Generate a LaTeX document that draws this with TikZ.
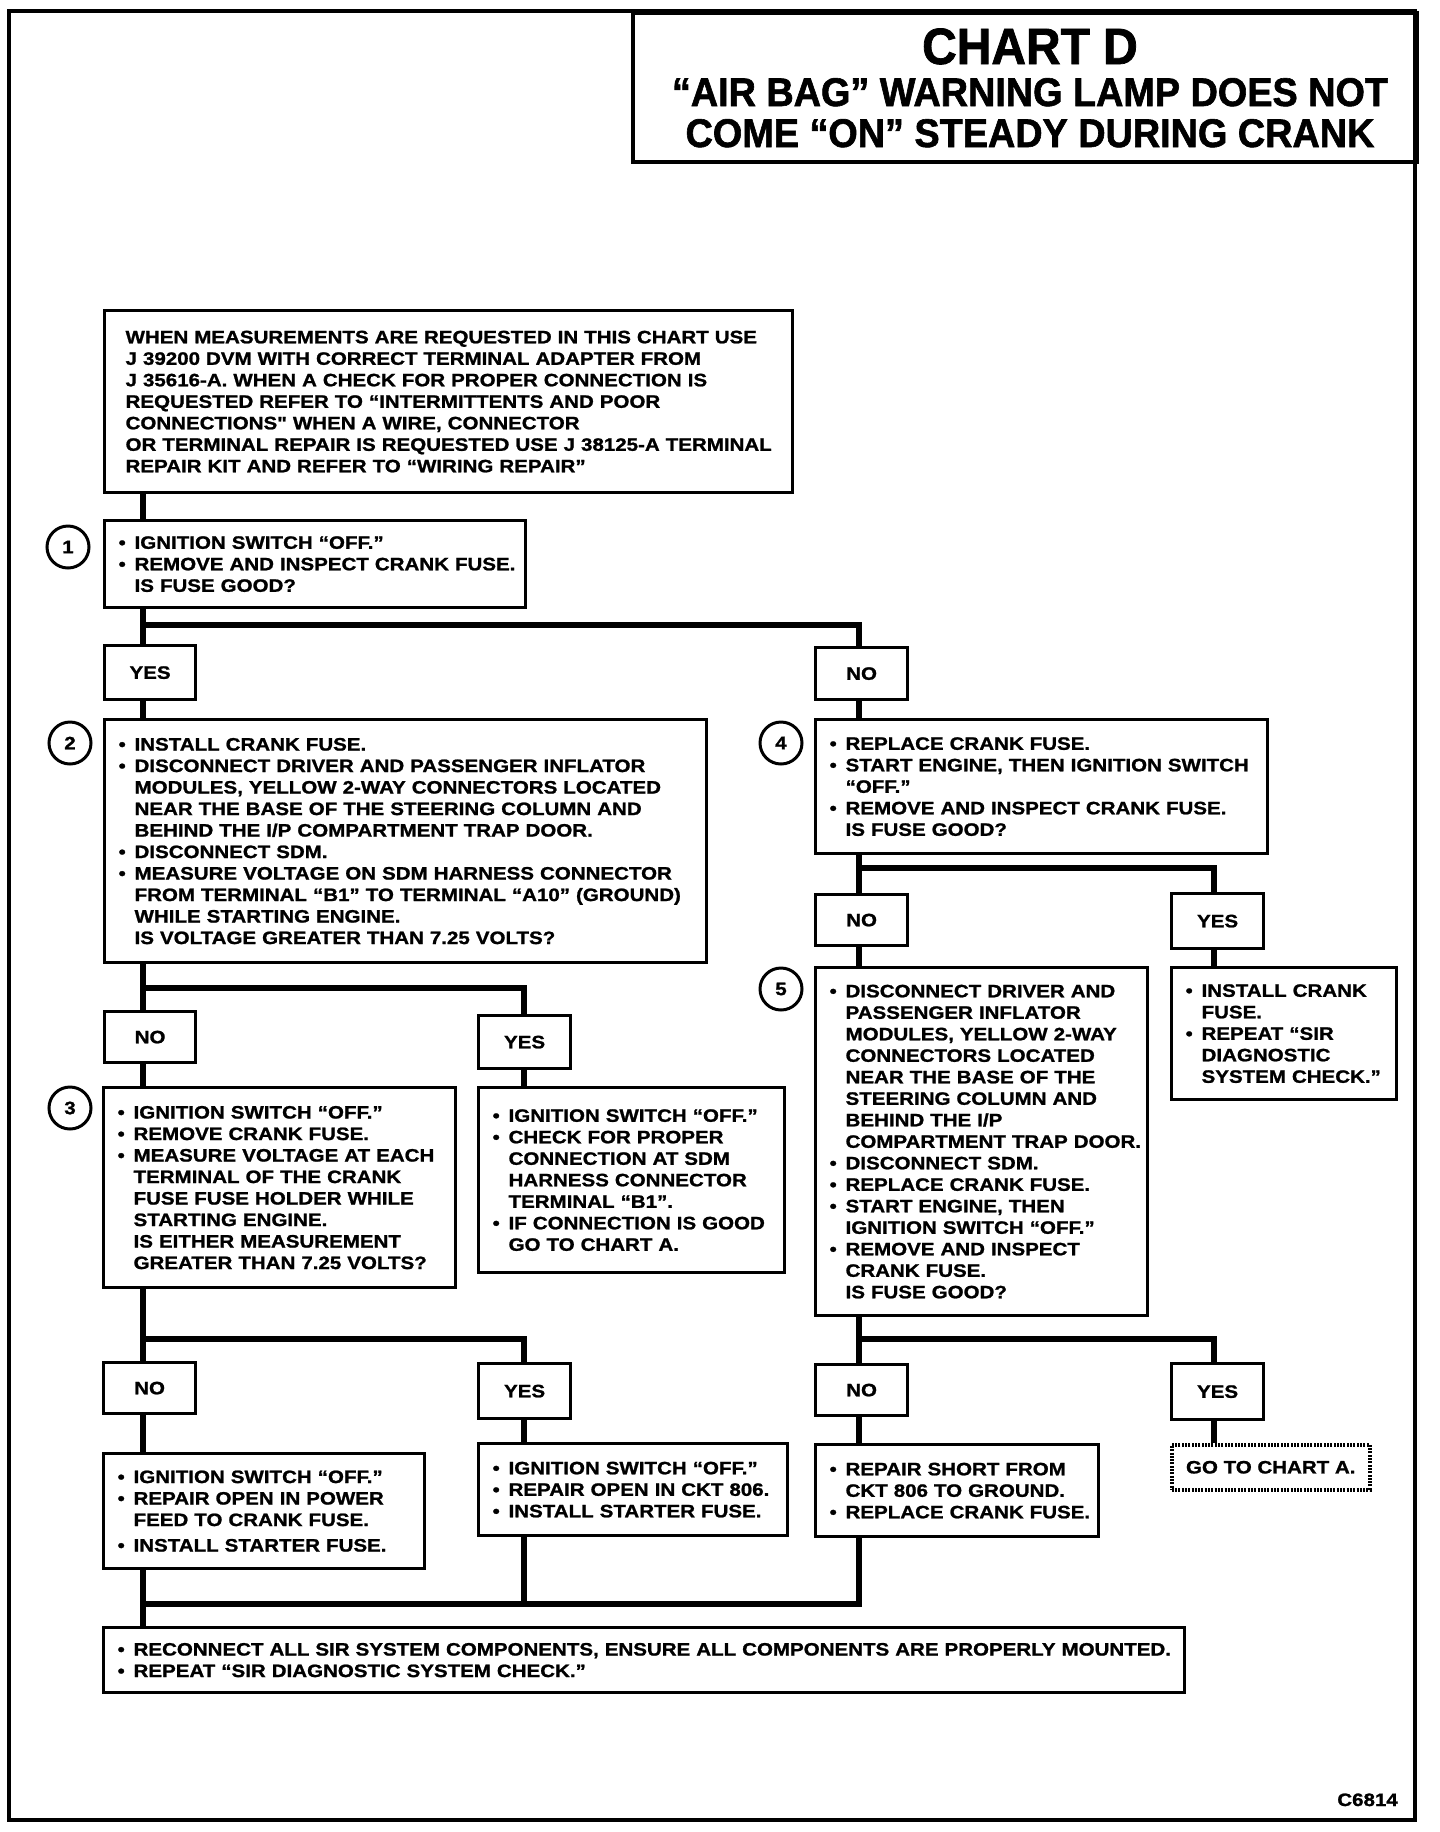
\documentclass[tikz,border=0pt]{standalone}
\usepackage{fontspec}
\newfontfamily\bodyf[FakeStretch=1.14, BoldFeatures={FakeBold=1.2}]{Liberation Sans}
\newfontfamily\titf[FakeStretch=0.945, BoldFeatures={FakeBold=1.5}]{Liberation Sans}
\newfontfamily\titfA[FakeStretch=0.94, BoldFeatures={FakeBold=1.5}]{Liberation Sans}
\newcommand\bul{\makebox[16pt][l]{\textbullet}}
\newcommand\indt{\hspace*{16pt}}
\tikzset{
  box/.style={draw, line width=3.2pt, anchor=north west, inner xsep=14pt, inner ysep=0pt,
    align=left, font=\bodyf\bfseries\fontsize{18}{21.5}\selectfont},
  lab/.style={draw, line width=3.2pt, anchor=north west, inner sep=0pt,
    align=center, font=\bodyf\bfseries\fontsize{18}{21.5}\selectfont},
  num/.style={circle, draw, line width=3pt, minimum size=42pt, inner sep=0pt,
    font=\bodyf\bfseries\fontsize{18}{18}\selectfont},
  conn/.style={line width=6.5pt, line join=miter},
  ttl/.style={anchor=base, inner sep=0pt}
}
\begin{document}
\begin{tikzpicture}[x=1pt,y=-1pt]
\useasboundingbox (0,0) rectangle (1440,1832);
% frame and title
\draw[line width=3.5pt] (9,11) rectangle (1415,1820);
\node[draw, line width=3.5pt, anchor=north west, minimum width=784pt, minimum height=149pt, inner sep=0pt] (tbox) at (631,11) {};
\node[ttl, font=\titfA\bfseries\fontsize{51}{51}\selectfont] (t1) at (1030,64) {CHART D};
\node[ttl, font=\titf\bfseries\fontsize{40}{40}\selectfont] (t2) at (1030,106) {“AIR BAG” WARNING LAMP DOES NOT};
\node[ttl, font=\titf\bfseries\fontsize{40}{40}\selectfont] (t3) at (1030,147) {COME “ON” STEADY DURING CRANK};

% boxes
\node[box, inner xsep=21pt, minimum width=688pt, minimum height=182pt, text width=646pt] (info) at (103,309) {%
\mbox{WHEN MEASUREMENTS ARE REQUESTED IN THIS CHART USE}\\
\mbox{J 39200 DVM WITH CORRECT TERMINAL ADAPTER FROM}\\
\mbox{J 35616-A. WHEN A CHECK FOR PROPER CONNECTION IS}\\
\mbox{REQUESTED REFER TO “INTERMITTENTS AND POOR}\\
\mbox{CONNECTIONS" WHEN A WIRE, CONNECTOR}\\
\mbox{OR TERMINAL REPAIR IS REQUESTED USE J 38125-A TERMINAL}\\
\mbox{REPAIR KIT AND REFER TO “WIRING REPAIR”}};

\node[box, minimum width=421pt, minimum height=87pt, text width=393pt] (b1) at (103,519) {%
\mbox{\bul IGNITION SWITCH “OFF.”}\\
\mbox{\bul REMOVE AND INSPECT CRANK FUSE.}\\
\mbox{\indt IS FUSE GOOD?}};

\node[lab, minimum width=91pt, minimum height=54pt] (yes1) at (103,644) {YES};
\node[lab, minimum width=92pt, minimum height=52pt] (no1) at (814,646) {NO};

\node[box, minimum width=602pt, minimum height=243pt, text width=574pt] (b2) at (103,718) {%
\mbox{\bul INSTALL CRANK FUSE.}\\
\mbox{\bul DISCONNECT DRIVER AND PASSENGER INFLATOR}\\
\mbox{\indt MODULES, YELLOW 2-WAY CONNECTORS LOCATED}\\
\mbox{\indt NEAR THE BASE OF THE STEERING COLUMN AND}\\
\mbox{\indt BEHIND THE I/P COMPARTMENT TRAP DOOR.}\\
\mbox{\bul DISCONNECT SDM.}\\
\mbox{\bul MEASURE VOLTAGE ON SDM HARNESS CONNECTOR}\\
\mbox{\indt FROM TERMINAL “B1” TO TERMINAL “A10” (GROUND)}\\
\mbox{\indt WHILE STARTING ENGINE.}\\
\mbox{\indt IS VOLTAGE GREATER THAN 7.25 VOLTS?}};

\node[box, minimum width=452pt, minimum height=134pt, text width=424pt] (b4) at (814,718) {%
\mbox{\bul REPLACE CRANK FUSE.}\\
\mbox{\bul START ENGINE, THEN IGNITION SWITCH}\\
\mbox{\indt “OFF.”}\\
\mbox{\bul REMOVE AND INSPECT CRANK FUSE.}\\
\mbox{\indt IS FUSE GOOD?}};

\node[lab, minimum width=91pt, minimum height=51pt] (no2) at (103,1010) {NO};
\node[lab, minimum width=92pt, minimum height=53pt] (yes2) at (477,1014) {YES};

\node[box, minimum width=352pt, minimum height=200pt, text width=324pt] (b3) at (102,1086) {%
\mbox{\bul IGNITION SWITCH “OFF.”}\\
\mbox{\bul REMOVE CRANK FUSE.}\\
\mbox{\bul MEASURE VOLTAGE AT EACH}\\
\mbox{\indt TERMINAL OF THE CRANK}\\
\mbox{\indt FUSE FUSE HOLDER WHILE}\\
\mbox{\indt STARTING ENGINE.}\\
\mbox{\indt IS EITHER MEASUREMENT}\\
\mbox{\indt GREATER THAN 7.25 VOLTS?}};

\node[box, minimum width=306pt, minimum height=185pt, text width=278pt] (b2y) at (477,1086) {%
\mbox{\bul IGNITION SWITCH “OFF.”}\\
\mbox{\bul CHECK FOR PROPER}\\
\mbox{\indt CONNECTION AT SDM}\\
\mbox{\indt HARNESS CONNECTOR}\\
\mbox{\indt TERMINAL “B1”.}\\
\mbox{\bul IF CONNECTION IS GOOD}\\
\mbox{\indt GO TO CHART A.}};

\node[lab, minimum width=92pt, minimum height=51pt] (no4) at (814,893) {NO};
\node[lab, minimum width=92pt, minimum height=55pt] (yes4) at (1170,892) {YES};

\node[box, minimum width=332pt, minimum height=348pt, text width=304pt] (b5) at (814,966) {%
\mbox{\bul DISCONNECT DRIVER AND}\\
\mbox{\indt PASSENGER INFLATOR}\\
\mbox{\indt MODULES, YELLOW 2-WAY}\\
\mbox{\indt CONNECTORS LOCATED}\\
\mbox{\indt NEAR THE BASE OF THE}\\
\mbox{\indt STEERING COLUMN AND}\\
\mbox{\indt BEHIND THE I/P}\\
\mbox{\indt COMPARTMENT TRAP DOOR.}\\
\mbox{\bul DISCONNECT SDM.}\\
\mbox{\bul REPLACE CRANK FUSE.}\\
\mbox{\bul START ENGINE, THEN}\\
\mbox{\indt IGNITION SWITCH “OFF.”}\\
\mbox{\bul REMOVE AND INSPECT}\\
\mbox{\indt CRANK FUSE.}\\
\mbox{\indt IS FUSE GOOD?}};

\node[box, minimum width=225pt, minimum height=132pt, text width=197pt] (b4y) at (1170,966) {%
\mbox{\bul INSTALL CRANK}\\
\mbox{\indt FUSE.}\\
\mbox{\bul REPEAT “SIR}\\
\mbox{\indt DIAGNOSTIC}\\
\mbox{\indt SYSTEM CHECK.”}};

\node[lab, minimum width=92pt, minimum height=51pt] (no3) at (102,1361) {NO};
\node[lab, minimum width=92pt, minimum height=55pt] (yes3) at (477,1362) {YES};
\node[lab, minimum width=92pt, minimum height=51pt] (no5) at (814,1363) {NO};
\node[lab, minimum width=92pt, minimum height=56pt] (yes5) at (1170,1362) {YES};

\node[box, minimum width=321pt, minimum height=115pt, text width=293pt] (b3n) at (102,1452) {%
\mbox{\bul IGNITION SWITCH “OFF.”}\\
\mbox{\bul REPAIR OPEN IN POWER}\\
\mbox{\indt FEED TO CRANK FUSE.}\\[4pt]
\mbox{\bul INSTALL STARTER FUSE.}};

\node[box, minimum width=309pt, minimum height=92pt, text width=281pt] (b3y) at (477,1442) {%
\mbox{\bul IGNITION SWITCH “OFF.”}\\
\mbox{\bul REPAIR OPEN IN CKT 806.}\\
\mbox{\bul INSTALL STARTER FUSE.}};

\node[box, minimum width=283pt, minimum height=92pt, text width=255pt] (b5n) at (814,1443) {%
\mbox{\bul REPAIR SHORT FROM}\\
\mbox{\indt CKT 806 TO GROUND.}\\
\mbox{\bul REPLACE CRANK FUSE.}};

\node[lab, line width=3.5pt, dash pattern=on 2pt off 1.3pt, minimum width=198pt, minimum height=45pt] (goto) at (1170,1443) {GO TO CHART A.};

\node[box, minimum width=1081pt, minimum height=65pt, text width=1053pt] (fin) at (102,1626) {%
\mbox{\bul RECONNECT ALL SIR SYSTEM COMPONENTS, ENSURE ALL COMPONENTS ARE PROPERLY MOUNTED.}\\
\mbox{\bul REPEAT “SIR DIAGNOSTIC SYSTEM CHECK.”}};

% step numbers
\node[num] (c1) at (68,547) {1};
\node[num] (c2) at (70,743) {2};
\node[num] (c3) at (70,1108) {3};
\node[num] (c4) at (781,743) {4};
\node[num] (c5) at (781,989) {5};

\node[anchor=base east, inner sep=0pt, font=\bodyf\bfseries\fontsize{18}{18}\selectfont] (code) at (1398,1806) {C6814};

% connectors
\coordinate (xL) at (143,0);
\coordinate (xM) at (524,0);
\coordinate (xR) at (859,0);
\coordinate (xRR) at (1214,0);
\coordinate (j1) at (143,625);
\coordinate (j2) at (143,988);
\coordinate (j4) at (859,868);
\coordinate (j3) at (143,1339);
\coordinate (j5) at (859,1339);
\coordinate (jm) at (143,1604);

\draw[conn] (info.south -| xL) -- (b1.north -| xL);
\draw[conn] (b1.south -| xL) -- (yes1.north -| xL);
\draw[conn] (j1) -| (xR |- no1.north);
\draw[conn] (yes1.south -| xL) -- (b2.north -| xL);
\draw[conn] (no1.south -| xR) -- (b4.north -| xR);

\draw[conn] (b2.south -| xL) -- (no2.north -| xL);
\draw[conn] (j2) -| (xM |- yes2.north);
\draw[conn] (no2.south -| xL) -- (b3.north -| xL);
\draw[conn] (yes2.south -| xM) -- (b2y.north -| xM);

\draw[conn] (b4.south -| xR) -- (no4.north -| xR);
\draw[conn] (j4) -| (xRR |- yes4.north);
\draw[conn] (no4.south -| xR) -- (b5.north -| xR);
\draw[conn] (yes4.south -| xRR) -- (b4y.north -| xRR);

\draw[conn] (b3.south -| xL) -- (no3.north -| xL);
\draw[conn] (j3) -| (xM |- yes3.north);
\draw[conn] (no3.south -| xL) -- (b3n.north -| xL);
\draw[conn] (yes3.south -| xM) -- (b3y.north -| xM);

\draw[conn] (b5.south -| xR) -- (no5.north -| xR);
\draw[conn] (j5) -| (xRR |- yes5.north);
\draw[conn] (no5.south -| xR) -- (b5n.north -| xR);
\draw[conn] (yes5.south -| xRR) -- (goto.north -| xRR);

\draw[conn] (b3n.south -| xL) -- (fin.north -| xL);
\draw[conn] (b5n.south -| xR) |- (jm);
\draw[conn] (b3y.south -| xM) -- (xM |- jm);
\end{tikzpicture}
\end{document}
